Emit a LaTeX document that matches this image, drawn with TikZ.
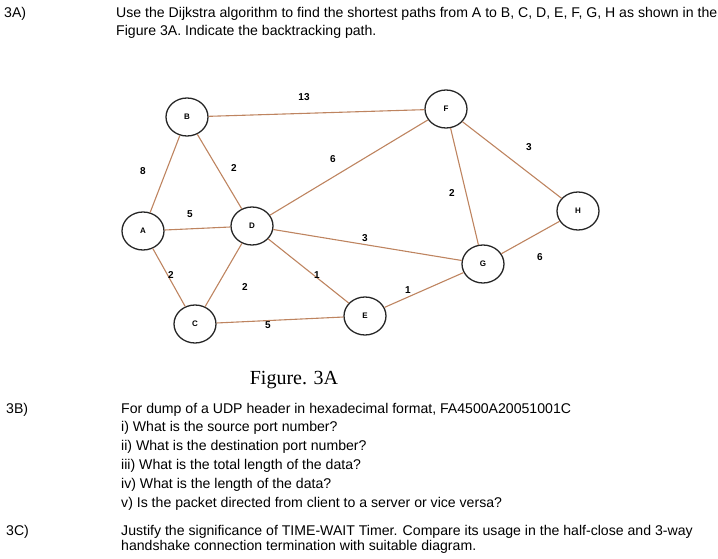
\documentclass[tikz,border=0pt]{standalone}
\usepackage{fontspec}
\usetikzlibrary{shapes.geometric}
\setmainfont{Liberation Sans}
\newfontfamily\figfont{Liberation Serif}
\definecolor{edgebrown}{RGB}{190,132,96}
\begin{document}
\begin{tikzpicture}[x=1pt, y=-1pt,
    vtx/.style={draw=black!85, line width=1.3pt, ellipse, minimum width=42pt, minimum height=38pt, inner sep=0pt, font=\fontsize{8}{8}\selectfont\bfseries},
    wt/.style={font=\fontsize{10}{10}\selectfont\bfseries, inner sep=0pt},
    link/.style={edgebrown, line width=1.1pt},
    txt/.style={anchor=base west, inner sep=0pt, font=\fontsize{14.1}{14.1}\selectfont}]
  \useasboundingbox (0,0) rectangle (718,559);

  % vertices of Figure 3A
  \node[vtx] (B) at (187,117) {B};
  \node[vtx] (A) at (143,231) {A};
  \node[vtx] (D) at (252,226) {D};
  \node[vtx] (C) at (195,324) {C};
  \node[vtx] (E) at (365,316) {E};
  \node[vtx] (F) at (446,109) {F};
  \node[vtx] (G) at (483,264) {G};
  \node[vtx] (H) at (578,211) {H};

  % edges
  \draw[link] (A) -- (B);
  \draw[link] (B) -- (D);
  \draw[link] (B) -- (F);
  \draw[link] (A) -- (D);
  \draw[link] (A) -- (C);
  \draw[link] (D) -- (C);
  \draw[link] (C) -- (E);
  \draw[link] (D) -- (E);
  \draw[link] (D) -- (F);
  \draw[link] (D) -- (G);
  \draw[link] (F) -- (G);
  \draw[link] (F) -- (H);
  \draw[link] (G) -- (H);
  \draw[link] (E) -- (G);

  % weights
  \node[wt] (wBF) at (304,97) {13};
  \node[wt] (wAB) at (143,171) {8};
  \node[wt] (wBD) at (234,168) {2};
  \node[wt] (wDF) at (333,159) {6};
  \node[wt] (wAD) at (190,214) {5};
  \node[wt] (wAC) at (171,275) {2};
  \node[wt] (wDC) at (245,287) {2};
  \node[wt] (wCE) at (268,325) {5};
  \node[wt] (wDE) at (317,275) {1};
  \node[wt] (wDG) at (365,238) {3};
  \node[wt] (wFG) at (452,193) {2};
  \node[wt] (wFH) at (529,147) {3};
  \node[wt] (wGH) at (540,257) {6};
  \node[wt] (wEG) at (408,290) {1};

  % question text
  \node[txt] (q3a) at (4,17.3) {3A)};
  \node[txt] (q3a1) at (116,17.3) {Use the Dijkstra algorithm to find the shortest paths from A to B, C, D, E, F, G, H as shown in the};
  \node[txt] (q3a2) at (116,35.5) {Figure 3A. Indicate the backtracking path.};
  \node[anchor=base, inner sep=0pt, font=\figfont\fontsize{20}{20}\selectfont] (cap) at (294,384) {Figure. 3A};
  \node[txt] (q3b) at (6,413) {3B)};
  \node[txt] (q3b1) at (121,413) {For dump of a UDP header in hexadecimal format, FA4500A20051001C};
  \node[txt] (q3b2) at (121,431.5) {i) What is the source port number?};
  \node[txt] (q3b3) at (121,450.5) {ii) What is the destination port number?};
  \node[txt] (q3b4) at (121,469.5) {iii) What is the total length of the data?};
  \node[txt] (q3b5) at (121,488.5) {iv) What is the length of the data?};
  \node[txt] (q3b6) at (121,507.5) {v) Is the packet directed from client to a server or vice versa?};
  \node[txt] (q3c) at (6,535.5) {3C)};
  \node[txt] (q3c1) at (121,535.5) {Justify the significance of TIME-WAIT Timer. Compare its usage in the half-close and 3-way};
  \node[txt] (q3c2) at (121,550.5) {handshake connection termination with suitable diagram.};
\end{tikzpicture}
\end{document}
